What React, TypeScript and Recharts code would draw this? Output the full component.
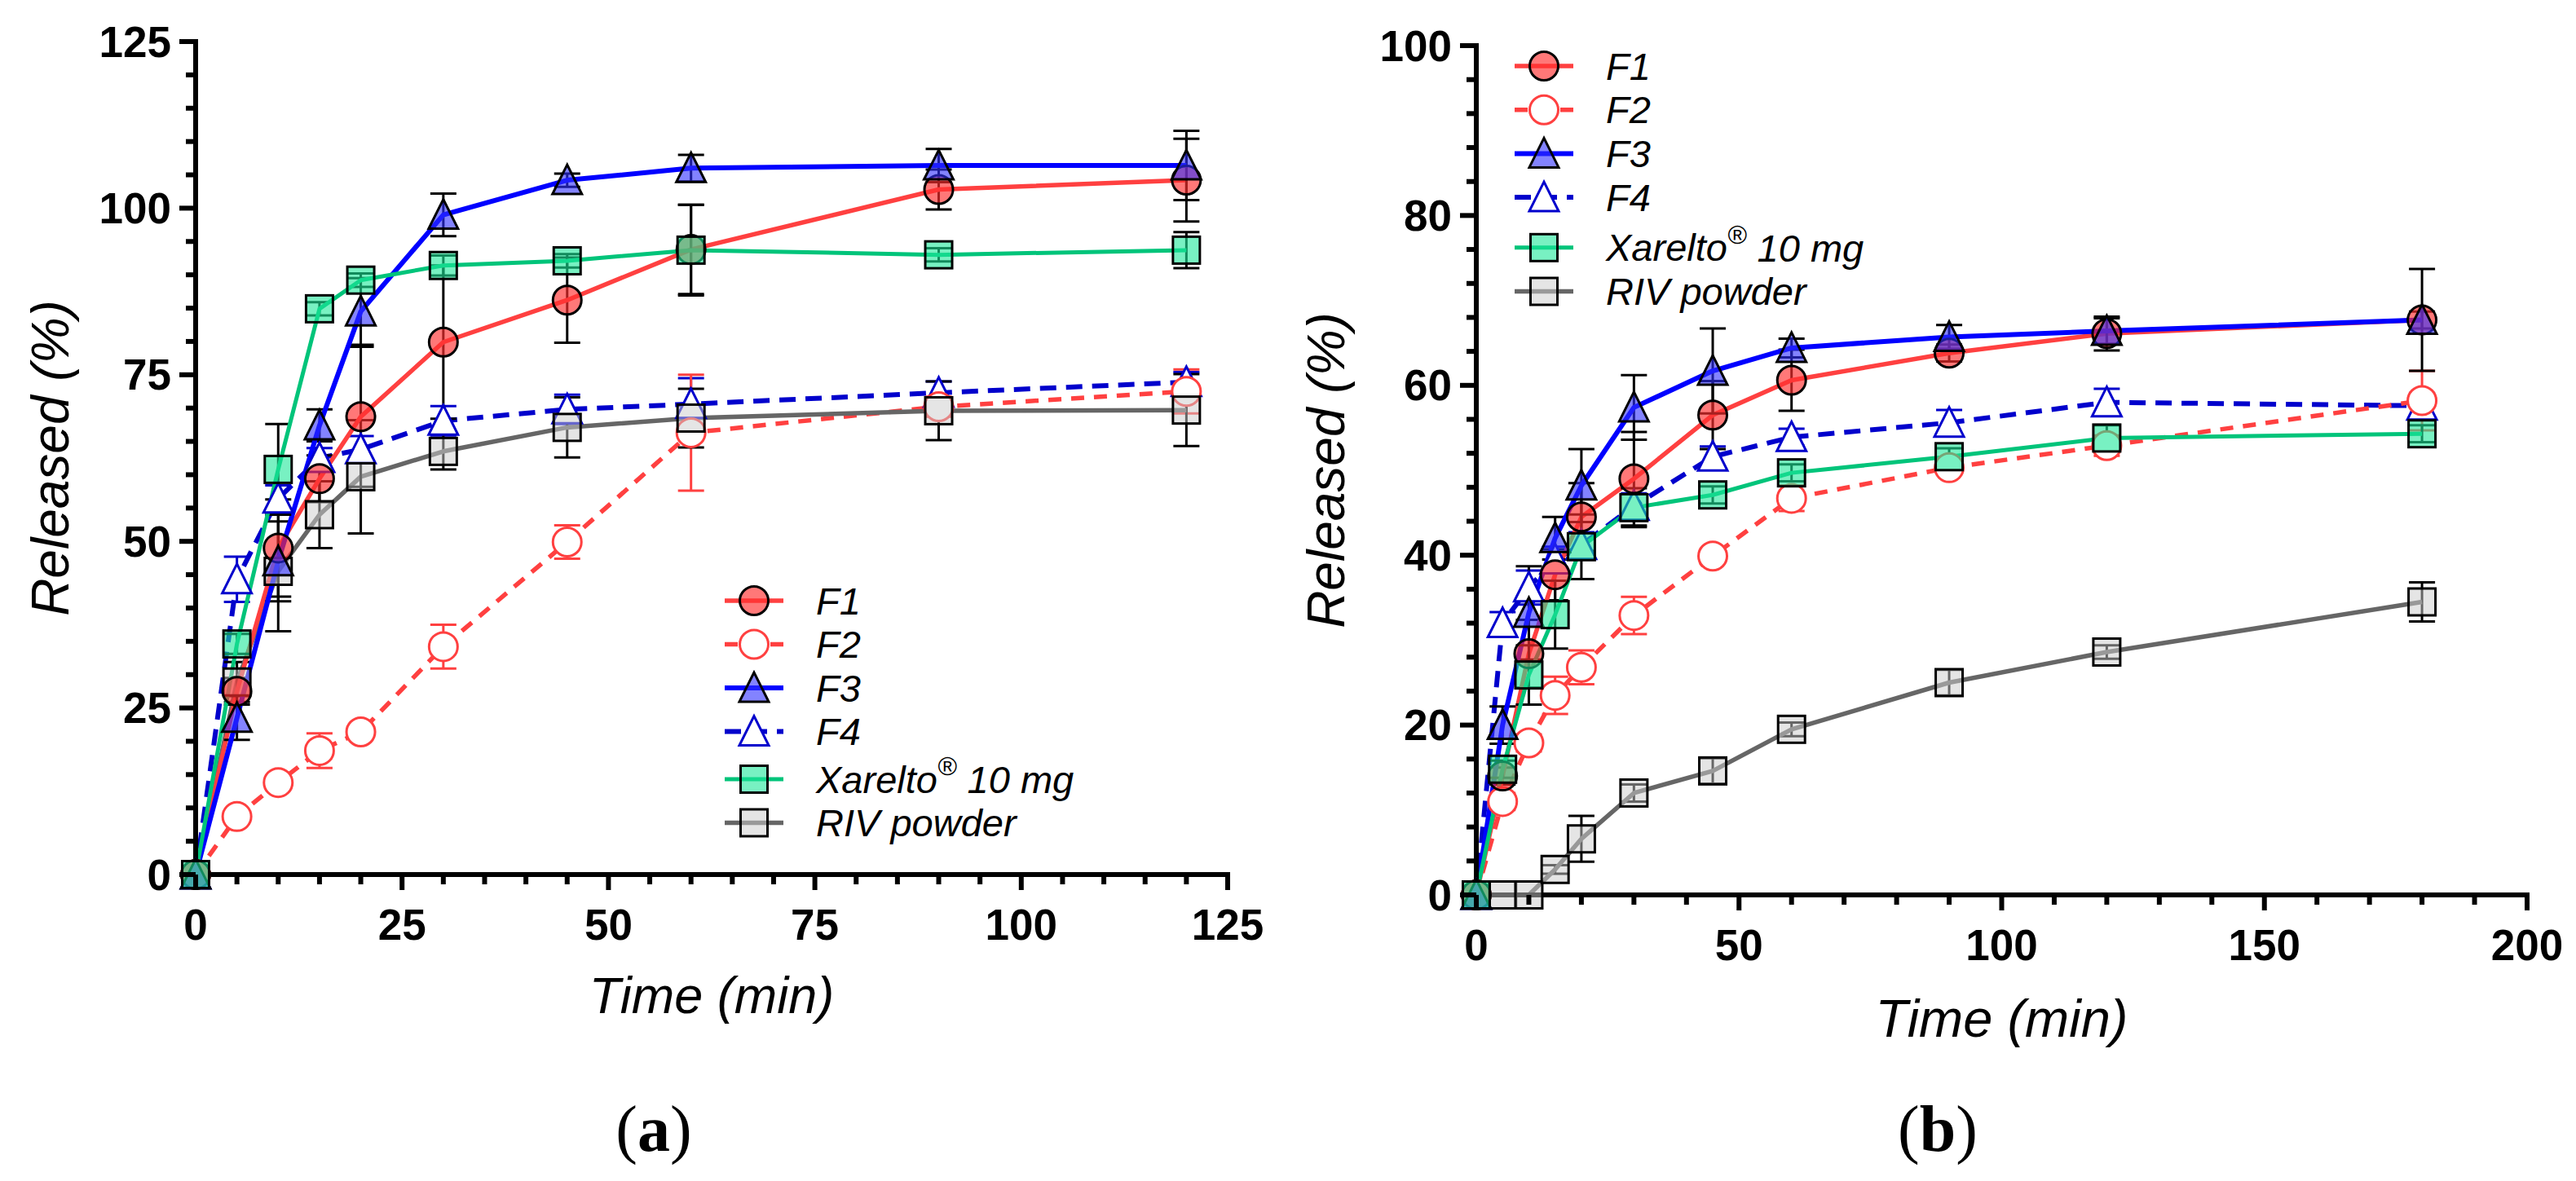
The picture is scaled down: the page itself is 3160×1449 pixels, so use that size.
import React from "react"
import { LineChart, Line, XAxis, YAxis, ErrorBar, Legend } from "recharts"

// (a) release over 120 min
const timeA = [0, 5, 10, 15, 20, 30, 45, 60, 90, 120]
const f1A = [0, 27.5, 49, 59.4, 68.7, 79.9, 86.2, 93.8, 102.8, 104.2]
const f1ErrA = [0, 2, 7.3, 3.5, 10.5, 11.5, 6.4, 6.7, 3, 6.2]
const f2A = [0, 8.7, 13.8, 18.6, 21.4, 34.2, 49.9, 66.3, 70.2, 72.5]
const f2ErrA = [0, 0.8, 0.8, 2.6, 0.8, 3.3, 2.5, 8.7, 1.5, 3.3]
const f3A = [0, 23.5, 47, 67.4, 84.5, 99, 104.2, 106, 106.4, 106.4]
const f3ErrA = [0, 3.3, 6, 2.4, 5, 3.2, 1, 2, 2.5, 5.2]
const f4A = [0, 44.3, 56.4, 62.5, 63.8, 68.1, 69.8, 70.6, 72.3, 73.9]
const f4ErrA = [0, 3.4, 2, 1.5, 2, 2.2, 2.2, 3.9, 1.7, 1.5]
const xarA = [0, 34.6, 60.8, 84.9, 89.2, 91.4, 92.1, 93.7, 93.0, 93.7]
const xarErrA = [0, 1.5, 6.8, 1, 1, 1.5, 1, 6.8, 1, 2.7]
const rivA = [0, 28.9, 45.5, 54.0, 59.7, 63.5, 67.1, 68.5, 69.6, 69.7]
const rivErrA = [0, 3, 9, 5, 8.5, 2.7, 4.5, 4.4, 4.4, 5.4]

// (b) release over 180 min
const timeB = [0, 5, 10, 15, 20, 30, 45, 60, 90, 120, 180]
const f1B = [0, 14, 28.4, 37.7, 44.5, 49.0, 56.5, 60.6, 63.8, 66.1, 67.7]
const f1ErrB = [0, 1, 4, 3, 4, 5.5, 4, 3.6, 1, 2, 6]
const f2B = [0, 11, 17.9, 23.5, 26.8, 32.9, 39.9, 46.7, 50.3, 52.9, 58.2]
const f2ErrB = [0, 1, 1, 2.2, 2, 2.2, 0.8, 1.5, 0.8, 1.2, 3.5]
const f3B = [0, 20, 33.2, 42, 48.2, 57.4, 61.7, 64.4, 65.7, 66.4, 67.7]
const f3ErrB = [0, 2.2, 5.5, 2.5, 4.3, 3.8, 5, 1.1, 1.4, 1.5, 1]
const f4B = [0, 32, 36.2, 39.5, 41.2, 45.8, 51.6, 53.9, 55.6, 58.0, 57.6]
const f4ErrB = [0, 1.3, 2, 1.5, 1.5, 1.5, 1.2, 1, 1.5, 1.6, 1.5]
const xarB = [0, 14.8, 25.9, 33.0, 41.0, 45.6, 47.1, 49.7, 51.6, 53.8, 54.3]
const xarErrB = [0, 1, 3.5, 4, 3.8, 2.3, 1, 1, 1, 1.5, 1]
const rivB = [0, 0, 0, 3.0, 6.6, 12.0, 14.6, 19.5, 25.0, 28.6, 34.5]
const rivErrB = [0, 0, 0, 0.5, 2.7, 1, 1.5, 0.8, 1.5, 0.8, 2.3]

// axis ticks
const xMajorA = [0, 25, 50, 75, 100, 125]
const yMajorA = [0, 25, 50, 75, 100, 125]
const xMajorB = [0, 50, 100, 150, 200]
const yMajorB = [0, 20, 40, 60, 80, 100]

const SANS = "'Liberation Sans', Arial, sans-serif"

type Shape = "circle" | "triangle" | "square"
type SeriesStyle = {
  key: string
  name: string
  color: string
  dash?: string
  width: number
  shape: Shape
  fill: string
  fillOpacity: number
  edge: string
  errColor: string
}

// legend order
const seriesStyles: SeriesStyle[] = [
  { key: "f1", name: "F1", color: "#ff4040", width: 5.5, shape: "circle", fill: "#ff3030", fillOpacity: 0.65, edge: "#000", errColor: "#000" },
  { key: "f2", name: "F2", color: "#ff4040", dash: "16 12", width: 5.5, shape: "circle", fill: "#fff", fillOpacity: 1, edge: "#ff4040", errColor: "#ff4040" },
  { key: "f3", name: "F3", color: "#0000ff", width: 6, shape: "triangle", fill: "#3030ff", fillOpacity: 0.6, edge: "#000", errColor: "#000" },
  { key: "f4", name: "F4", color: "#0000cc", dash: "20 12", width: 6, shape: "triangle", fill: "#fff", fillOpacity: 1, edge: "#0000cc", errColor: "#0000cc" },
  { key: "xar", name: "Xarelto® 10 mg", color: "#00c47a", width: 5, shape: "square", fill: "#1ee89a", fillOpacity: 0.6, edge: "#000", errColor: "#000" },
  { key: "riv", name: "RIV powder", color: "#666666", width: 5.5, shape: "square", fill: "#cccccc", fillOpacity: 0.5, edge: "#000", errColor: "#000" },
]
const drawOrder = ["f4", "f2", "riv", "f1", "f3", "xar"]

const buildRows = (time: number[], cols: Record<string, number[]>) =>
  time.map((t, i) => {
    const row: Record<string, number> = { t }
    Object.keys(cols).forEach((k) => (row[k] = cols[k][i]))
    return row
  })

const dataA = buildRows(timeA, {
  f1: f1A, f1e: f1ErrA, f2: f2A, f2e: f2ErrA, f3: f3A, f3e: f3ErrA,
  f4: f4A, f4e: f4ErrA, xar: xarA, xare: xarErrA, riv: rivA, rive: rivErrA,
})
const dataB = buildRows(timeB, {
  f1: f1B, f1e: f1ErrB, f2: f2B, f2e: f2ErrB, f3: f3B, f3e: f3ErrB,
  f4: f4B, f4e: f4ErrB, xar: xarB, xare: xarErrB, riv: rivB, rive: rivErrB,
})

const withMinor = (majors: number[], step: number) => {
  const out: number[] = []
  const end = majors[majors.length - 1]
  for (let v = majors[0]; v <= end + 1e-9; v += step) out.push(Math.round(v * 100) / 100)
  return out
}

const Marker = ({ cx, cy, s }: { cx: number; cy: number; s: SeriesStyle }) => {
  const common = { fill: s.fill, fillOpacity: s.fillOpacity, stroke: s.edge, strokeWidth: 3 }
  if (s.shape === "circle") return <circle cx={cx} cy={cy} r={17.5} {...common} />
  if (s.shape === "triangle")
    return <polygon points={`${cx},${cy - 19} ${cx - 18},${cy + 17} ${cx + 18},${cy + 17}`} {...common} />
  return <rect x={cx - 16.5} y={cy - 16.5} width={33} height={33} {...common} />
}

const XTick = (props: any) => {
  const { x, y, payload, majors } = props
  const major = majors.includes(payload.value)
  return (
    <g>
      <line x1={x} x2={x} y1={y} y2={y + (major ? 19 : 12)} stroke="#000" strokeWidth={6} />
      {major && (
        <text x={x} y={y + 61} textAnchor="middle" dominantBaseline="central" fontFamily={SANS} fontWeight="bold" fontSize={53} fill="#000">
          {payload.value}
        </text>
      )}
    </g>
  )
}

const YTick = (props: any) => {
  const { x, y, payload, majors } = props
  const major = majors.includes(payload.value)
  return (
    <g>
      <line x1={x - (major ? 20 : 12)} x2={x} y1={y} y2={y} stroke="#000" strokeWidth={6} />
      {major && (
        <text x={x - 30} y={y} textAnchor="end" dominantBaseline="central" fontFamily={SANS} fontWeight="bold" fontSize={53} fill="#000">
          {payload.value}
        </text>
      )}
    </g>
  )
}

const XTitle = (props: any) => {
  const vb = props.viewBox || { x: 0, y: 0, width: 0 }
  return (
    <text x={vb.x + vb.width / 2} y={vb.y + props.dy} textAnchor="middle" fontFamily={SANS} fontStyle="italic" fontSize={props.size} fill="#000">
      Time (min)
    </text>
  )
}

const YTitle = (props: any) => {
  const vb = props.viewBox || { y: 0, height: 0 }
  const cy = vb.y + vb.height / 2
  return (
    <text x={props.bx} y={cy} transform={`rotate(-90, ${props.bx}, ${cy})`} textAnchor="middle" fontFamily={SANS} fontStyle="italic" fontSize={64} fill="#000">
      Released (%)
    </text>
  )
}

const LegendSvg = ({ firstY, step, extra }: { firstY: number; step: number; extra: number }) => (
  <svg width={620} height={360} style={{ overflow: "visible", display: "block" }}>
    {seriesStyles.map((s, i) => {
      const y = firstY + i * step + (i >= 4 ? extra : 0)
      return (
        <g key={s.key}>
          <line x1={4} x2={76} y1={y} y2={y} stroke={s.color} strokeWidth={s.width} strokeDasharray={s.dash} />
          <Marker cx={40} cy={y} s={s} />
          <text x={116} y={y} dominantBaseline="central" fontFamily={SANS} fontStyle="italic" fontSize={47} fill="#000">
            {s.key === "xar" ? (
              <>
                Xarelto
                <tspan dy={-16} fontSize={32}>®</tspan>
                <tspan dy={16}> 10 mg</tspan>
              </>
            ) : (
              s.name
            )}
          </text>
        </g>
      )
    })}
  </svg>
)

type PanelProps = {
  left: number
  data: Record<string, number>[]
  plot: { left: number; top: number; right: number; bottom: number }
  xMajor: number[]
  xStep: number
  yMajor: number[]
  yStep: number
  yTitleX: number
  xTitleDy: number
  xTitleSize: number
  legend: { left: number; top: number; firstY: number; step: number; extra: number }
}

const Panel = ({ left, data, plot, xMajor, xStep, yMajor, yStep, yTitleX, xTitleDy, xTitleSize, legend }: PanelProps) => {
  const W = 1580
  const H = 1449
  const axisLine = { stroke: "#000", strokeWidth: 6, strokeLinecap: "square" as const }
  return (
    <div style={{ position: "absolute", left, top: 0, width: W, height: H }}>
      <LineChart width={W} height={H} data={data} margin={{ top: plot.top, right: W - plot.right, bottom: 0, left: 0 }}>
        <XAxis
          type="number"
          dataKey="t"
          domain={[xMajor[0], xMajor[xMajor.length - 1]]}
          ticks={withMinor(xMajor, xStep)}
          interval={0}
          height={H - plot.bottom}
          tickSize={0}
          tickMargin={0}
          tickLine={false}
          axisLine={axisLine}
          tick={(p: any) => <XTick {...p} majors={xMajor} />}
          label={<XTitle dy={xTitleDy} size={xTitleSize} />}
        />
        <YAxis
          type="number"
          domain={[yMajor[0], yMajor[yMajor.length - 1]]}
          ticks={withMinor(yMajor, yStep)}
          interval={0}
          width={plot.left}
          tickSize={0}
          tickMargin={0}
          tickLine={false}
          axisLine={axisLine}
          tick={(p: any) => <YTick {...p} majors={yMajor} />}
          label={<YTitle bx={yTitleX} />}
        />
        {drawOrder.map((key) => {
          const s = seriesStyles.find((d) => d.key === key)!
          return (
            <Line
              key={key}
              type="linear"
              dataKey={key}
              stroke={s.color}
              strokeWidth={s.width}
              strokeDasharray={s.dash}
              strokeLinejoin="round"
              dot={(p: any) => <Marker key={`${key}-${p.index}`} cx={p.cx} cy={p.cy} s={s} />}
              activeDot={false}
              isAnimationActive={false}
            >
              <ErrorBar dataKey={`${key}e`} direction="y" width={16} stroke={s.errColor} strokeWidth={3} isAnimationActive={false} />
            </Line>
          )
        })}
        <Legend
          layout="vertical"
          align="center"
          verticalAlign="middle"
          wrapperStyle={{ left: legend.left, top: legend.top, width: 620, height: 360 }}
          content={() => <LegendSvg firstY={legend.firstY} step={legend.step} extra={legend.extra} />}
        />
      </LineChart>
    </div>
  )
}

export default function App() {
  return (
    <div style={{ position: "absolute", left: 0, top: 0, width: 3160, height: 1449, background: "#fff" }}>
      <Panel
        left={0}
        data={dataA}
        plot={{ left: 240, top: 51, right: 1506, bottom: 1073 }}
        xMajor={xMajorA}
        xStep={5}
        yMajor={yMajorA}
        yStep={5}
        yTitleX={84}
        xTitleDy={170}
        xTitleSize={63}
        legend={{ left: 885, top: 700, firstY: 37, step: 53.5, extra: 5 }}
      />
      <Panel
        left={1580}
        data={dataB}
        plot={{ left: 231, top: 56, right: 1520, bottom: 1098 }}
        xMajor={xMajorB}
        xStep={10}
        yMajor={yMajorB}
        yStep={4}
        yTitleX={69}
        xTitleDy={174}
        xTitleSize={65}
        legend={{ left: 274, top: 44, firstY: 37, step: 53.7, extra: 8 }}
      />
      <svg width={3160} height={1449} style={{ position: "absolute", left: 0, top: 0, pointerEvents: "none" }}>
        <text x={802} y={1412} textAnchor="middle" fontFamily="'Liberation Serif', 'Times New Roman', serif" fontSize={80} fill="#000">
          (<tspan fontWeight="bold">a</tspan>)
        </text>
        <text x={2377} y={1412} textAnchor="middle" fontFamily="'Liberation Serif', 'Times New Roman', serif" fontSize={80} fill="#000">
          (<tspan fontWeight="bold">b</tspan>)
        </text>
      </svg>
    </div>
  )
}
